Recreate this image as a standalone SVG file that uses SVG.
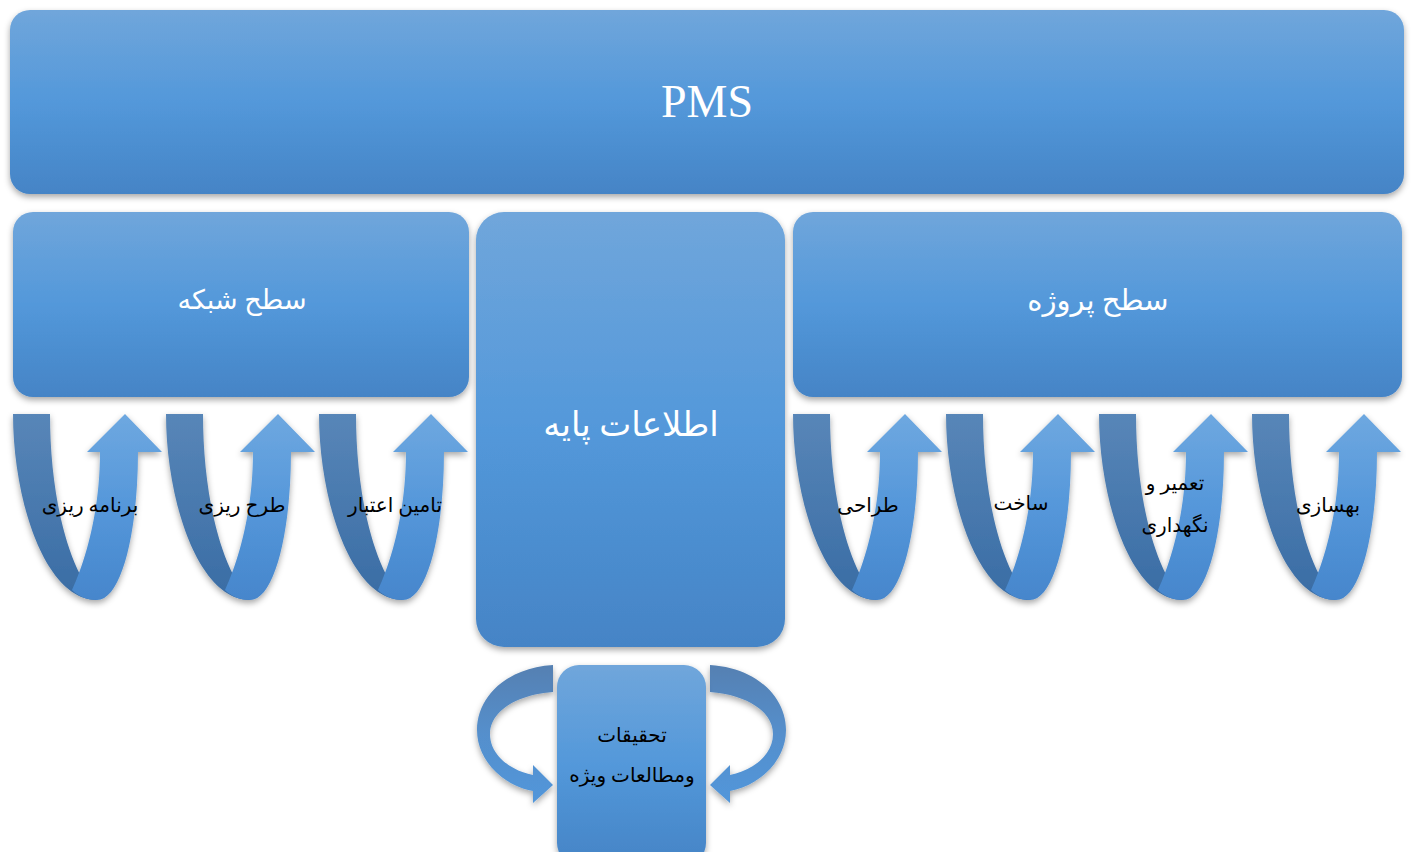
<svg xmlns="http://www.w3.org/2000/svg" xmlns:xlink="http://www.w3.org/1999/xlink" width="1414" height="852" viewBox="0 0 1414 852">
<defs>
<linearGradient id="boxG" x1="0" y1="0" x2="0" y2="1">
<stop offset="0" stop-color="#70a6db"/>
<stop offset="0.5" stop-color="#5398da"/>
<stop offset="1" stop-color="#4584c6"/>
</linearGradient>
<linearGradient id="darkG" x1="0" y1="414" x2="0" y2="600" gradientUnits="userSpaceOnUse">
<stop offset="0" stop-color="#5886b8"/>
<stop offset="1" stop-color="#396ca4"/>
</linearGradient>
<linearGradient id="lightG" x1="0" y1="414" x2="0" y2="600" gradientUnits="userSpaceOnUse">
<stop offset="0" stop-color="#6ea8e0"/>
<stop offset="0.5" stop-color="#5597da"/>
<stop offset="1" stop-color="#4686cc"/>
</linearGradient>
<linearGradient id="circG" x1="0" y1="665" x2="0" y2="802" gradientUnits="userSpaceOnUse">
<stop offset="0" stop-color="#5580b2"/>
<stop offset="0.5" stop-color="#548fcc"/>
<stop offset="1" stop-color="#5196da"/>
</linearGradient>
<filter id="sh" x="-10%" y="-10%" width="120%" height="130%">
<feDropShadow dx="0" dy="3" stdDeviation="3" flood-color="#000" flood-opacity="0.35"/>
</filter>
<g id="uarrow">
<path d="M13,414 H50 C50,490 66,566 97,600 C45,600 13,500 13,414 Z" fill="url(#darkG)"/>
<path d="M72,590 C86,560 100,510 100,452 H87 L125,414 L162,452 H138 C138,530 122,600 97,600 C86,600 78,596 72,590 Z" fill="url(#lightG)"/>
</g>
<path id="circL" d="M553,665 C505,668 477,698 477,730 C477,762 505,786 533,791 L533,803 L553,785 L533,765 L533,775 C512,771 490,756 490,734 C490,712 515,695 553,692 Z" fill="url(#circG)"/>
</defs>
<style>
.box{fill:url(#boxG);filter:url(#sh);}
.wt{fill:#ffffff;font-family:"Liberation Serif","DejaVu Sans",serif;text-anchor:middle;}
.bt{fill:#000000;font-family:"Liberation Serif","DejaVu Sans",serif;text-anchor:middle;font-size:20px;}
.arr{filter:url(#sh);}
</style>
<rect width="1414" height="852" fill="#ffffff"/>

<g id="connectors">
<g id="u1" class="arr"><use xlink:href="#uarrow"/></g>
<g id="u2" class="arr" transform="translate(153,0)"><use xlink:href="#uarrow"/></g>
<g id="u3" class="arr" transform="translate(306,0)"><use xlink:href="#uarrow"/></g>
<g id="u4" class="arr" transform="translate(780,0)"><use xlink:href="#uarrow"/></g>
<g id="u5" class="arr" transform="translate(933,0)"><use xlink:href="#uarrow"/></g>
<g id="u6" class="arr" transform="translate(1086,0)"><use xlink:href="#uarrow"/></g>
<g id="u7" class="arr" transform="translate(1239,0)"><use xlink:href="#uarrow"/></g>
<g id="cl" class="arr"><use xlink:href="#circL"/></g>
<g id="cr" class="arr" transform="translate(1263,0) scale(-1,1)"><use xlink:href="#circL"/></g>
</g>

<g id="pms">
<rect class="box" x="10" y="10" width="1394" height="184" rx="20"/>
<text class="wt" x="707" y="117" font-size="46">PMS</text>
</g>
<g id="network">
<rect class="box" x="13" y="212" width="456" height="185" rx="20"/>
<text class="wt" x="242" y="309" font-size="27">سطح شبکه</text>
</g>
<g id="base">
<rect class="box" x="476" y="212" width="309" height="435" rx="28"/>
<text class="wt" x="631" y="436" font-size="34">اطلاعات پایه</text>
</g>
<g id="project">
<rect class="box" x="793" y="212" width="609" height="185" rx="20"/>
<text class="wt" x="1098" y="310" font-size="29">سطح پروژه</text>
</g>
<g id="research">
<rect class="box" x="557" y="665" width="149" height="200" rx="22"/>
<text class="bt" x="632" y="742">تحقیقات</text>
<text class="bt" x="632" y="782">ومطالعات ویژه</text>
</g>

<g id="labels">
<g id="l1"><text class="bt" x="90" y="512">برنامه ریزی</text></g>
<g id="l2"><text class="bt" x="242" y="512">طرح ریزی</text></g>
<g id="l3"><text class="bt" x="395" y="512">تامین اعتبار</text></g>
<g id="l4"><text class="bt" x="868" y="512">طراحی</text></g>
<g id="l5"><text class="bt" x="1021" y="510">ساخت</text></g>
<g id="l6"><text class="bt" x="1175" y="490">تعمیر و</text><text class="bt" x="1175" y="532">نگهداری</text></g>
<g id="l7"><text class="bt" x="1328" y="512">بهسازی</text></g>
</g>
</svg>
